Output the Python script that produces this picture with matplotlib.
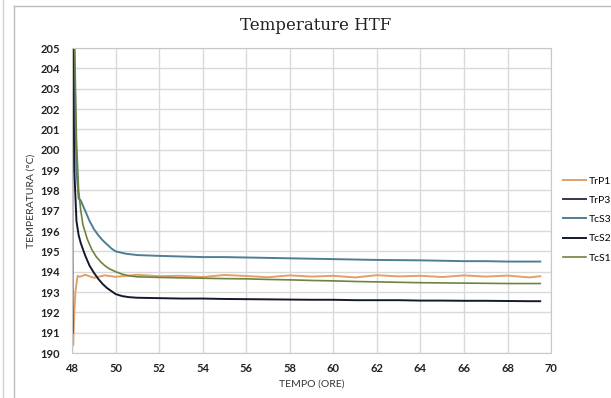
import matplotlib
matplotlib.use("Agg")
import matplotlib.pyplot as plt
from matplotlib.lines import Line2D

# time (hours) and temperatures (deg C)
t_p1 = [48.0, 48.02, 48.05, 48.1, 48.15, 48.25, 48.35, 48.6, 49.0, 49.5, 50.0, 51.0, 52.0,
        53.0, 54.0, 55.0, 56.0, 57.0, 58.0, 59.0, 60.0, 61.0, 62.0, 63.0, 64.0, 65.0,
        66.0, 67.0, 68.0, 69.0, 69.5]
trp1 = [190.0, 191.1, 190.4, 192.0, 193.0, 193.8, 193.75, 193.85, 193.7, 193.82, 193.75,
        193.85, 193.78, 193.8, 193.74, 193.84, 193.79, 193.73, 193.82, 193.76, 193.8,
        193.72, 193.83, 193.77, 193.8, 193.74, 193.82, 193.76, 193.81, 193.72, 193.78]

t_p3 = [48.0, 48.01, 48.02, 48.03]
trp3 = [205.0, 198.0, 193.0, 191.0]

t_s3 = [48.1, 48.2, 48.3, 48.4, 48.6, 48.8, 49.0, 49.2, 49.4, 49.6, 49.8, 50.0, 50.5,
        51.0, 52.0, 53.0, 54.0, 55.0, 56.0, 57.0, 58.0, 59.0, 60.0, 61.0, 62.0, 63.0,
        64.0, 65.0, 66.0, 67.0, 68.0, 69.0, 69.5]
tcs3 = [205.0, 199.0, 197.6, 197.5, 197.0, 196.5, 196.1, 195.8, 195.55, 195.35, 195.15,
        195.0, 194.88, 194.82, 194.78, 194.75, 194.72, 194.72, 194.7, 194.68, 194.66,
        194.64, 194.62, 194.6, 194.58, 194.57, 194.56, 194.54, 194.52, 194.52, 194.5,
        194.5, 194.5]

t_s2 = [48.05, 48.1, 48.2, 48.3, 48.4, 48.6, 48.8, 49.0, 49.2, 49.4, 49.6, 49.8, 50.0,
        50.3, 50.6, 51.0, 52.0, 53.0, 54.0, 55.0, 56.0, 57.0, 58.0, 59.0, 60.0, 61.0,
        62.0, 63.0, 64.0, 65.0, 66.0, 67.0, 68.0, 69.0, 69.5]
tcs2 = [205.0, 199.0, 196.5, 195.8, 195.4, 194.8, 194.3, 193.95, 193.65, 193.4, 193.2,
        193.05, 192.9, 192.8, 192.75, 192.72, 192.7, 192.68, 192.68, 192.66, 192.65,
        192.64, 192.63, 192.62, 192.62, 192.6, 192.6, 192.6, 192.58, 192.58, 192.57,
        192.57, 192.56, 192.55, 192.55]

t_s1 = [48.12, 48.2, 48.3, 48.4, 48.5, 48.7, 48.9, 49.1, 49.3, 49.5, 49.7, 50.0, 50.3,
        50.6, 51.0, 52.0, 53.0, 54.0, 55.0, 56.0, 57.0, 58.0, 59.0, 60.0, 61.0, 62.0,
        63.0, 64.0, 65.0, 66.0, 67.0, 68.0, 69.0, 69.5]
tcs1 = [205.0, 200.5, 198.0, 197.0, 196.3, 195.6, 195.1, 194.75, 194.5, 194.3, 194.15,
        194.0, 193.88, 193.8, 193.75, 193.72, 193.7, 193.68, 193.66, 193.65, 193.62,
        193.6, 193.57, 193.55, 193.52, 193.5, 193.48, 193.46, 193.45, 193.44, 193.43,
        193.42, 193.42, 193.42]

xticks = list(range(48, 71, 2))
yticks = list(range(190, 206))

fig = plt.figure(figsize=(6.11, 3.98), dpi=100)
ax = fig.add_axes([0.118, 0.113, 0.784, 0.766])

ax.plot(t_p1, trp1, color="#e0a06a", lw=1.4, label="TrP1")
ax.plot(t_p3, trp3, color="#3a3550", lw=1.4, label="TrP3")
ax.plot(t_s3, tcs3, color="#4e7f91", lw=1.4, label="TcS3")
ax.plot(t_s2, tcs2, color="#141a2e", lw=1.4, label="TcS2")
ax.plot(t_s1, tcs1, color="#6e8340", lw=1.2, label="TcS1")

ax.set_xlim(48, 70)
ax.set_ylim(190, 205)
ax.set_xticks(xticks)
ax.set_yticks(yticks)
ax.grid(True, color="#d9d9d9", lw=1)
ax.set_axisbelow(True)
ax.tick_params(axis="x", length=0, pad=7)
ax.tick_params(axis="y", length=0, pad=9)
for s in ax.spines.values():
    s.set_color("#c8c8c8")
for lab in ax.get_xticklabels() + ax.get_yticklabels():
    lab.set_fontfamily("Lato")
    lab.set_fontweight("bold")
    lab.set_fontsize(8)
    lab.set_color("#222222")

ax.set_ylabel("TEMPERATURA (°C)", fontfamily="Lato", fontsize=7.5, color="#333333", labelpad=3)
ax.set_xlabel("TEMPO (ORE)", fontfamily="Lato", fontsize=7.5, color="#333333", labelpad=4)

fig.text(316 / 611, 1 - 25 / 398, "Temperature HTF", ha="center", va="center",
         fontfamily="DejaVu Serif", fontsize=12, color="#222222")

leg = ax.legend(loc="center left", bbox_to_anchor=(1.005, 0.438), frameon=False,
                prop={"family": "Lato", "size": 7.5}, handlelength=2.2,
                handletextpad=0.3, labelspacing=0.95)

# chart frame lines
fig.add_artist(Line2D([14 / 611, 14 / 611], [0, 1 - 6 / 398], color="#bdbdbd", lw=1))
fig.add_artist(Line2D([14 / 611, 1], [1 - 6 / 398, 1 - 6 / 398], color="#bdbdbd", lw=1))
fig.add_artist(Line2D([3 / 611, 3 / 611], [0, 1], color="#d0d0d0", lw=1))

fig.savefig("out.png", dpi=100)
